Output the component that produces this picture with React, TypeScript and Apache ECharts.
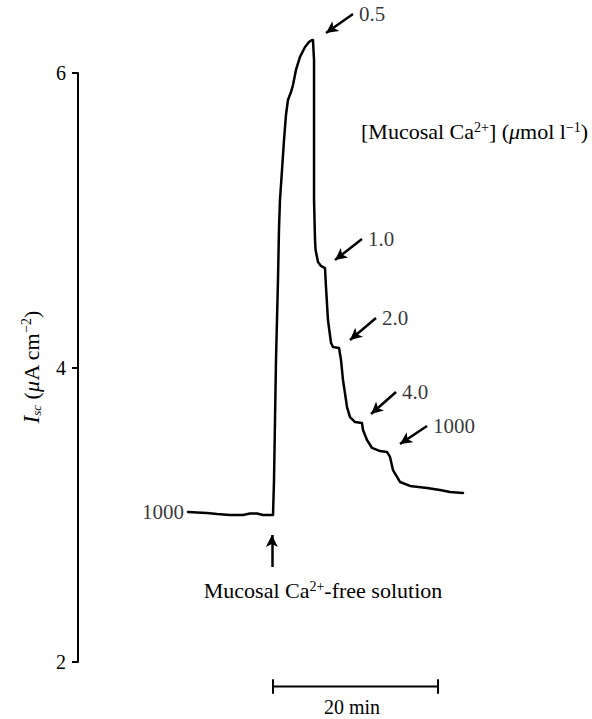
import React, { useEffect, useRef } from 'react';
import * as echarts from 'echarts';

// Time in minutes (x), short-circuit current Isc in µA cm^-2 (y)
const yTicks = [2, 4, 6];

const trace: number[][] = [
  [13.33, 3.022], [14.42, 3.019], [15.64, 3.015], [16.85, 3.008], [18.42, 3.002],
  [20.0, 3.002], [20.85, 3.012], [21.7, 3.012], [22.42, 3.002], [23.27, 3.002], [23.64, 3.002],
  [23.76, 3.239], [23.88, 3.647], [24.0, 4.054], [24.12, 4.326], [24.24, 4.598],
  [24.36, 4.937], [24.48, 5.141], [24.73, 5.345], [24.97, 5.548], [25.21, 5.718],
  [25.45, 5.82], [25.82, 5.874], [26.06, 5.922], [26.42, 6.024], [26.91, 6.113],
  [27.52, 6.18], [28.0, 6.214], [28.36, 6.228], [28.48, 6.228],
  [28.61, 6.092], [28.61, 5.684], [28.61, 5.141], [28.73, 4.869], [28.8, 4.801],
  [29.09, 4.72], [29.45, 4.693], [29.94, 4.679],
  [30.06, 4.55], [30.3, 4.326], [30.67, 4.17], [30.91, 4.143], [31.64, 4.136],
  [31.88, 4.054], [32.12, 3.919], [32.61, 3.735], [32.97, 3.667], [33.58, 3.633],
  [34.42, 3.626], [34.55, 3.579], [35.03, 3.511], [35.64, 3.457], [36.61, 3.436],
  [37.45, 3.43], [37.82, 3.396], [38.18, 3.307], [39.03, 3.226], [40.24, 3.199],
  [42.3, 3.185], [43.88, 3.171], [45.09, 3.158], [46.67, 3.151],
];

// mucosal Ca2+ concentrations (µmol l-1) and their marker arrows
const concLabels = ['0.5', '1.0', '2.0', '4.0', '1000'];
const arrowTails: number[][] = [
  [33.33, 6.404], [34.42, 4.876], [36.12, 4.34], [38.55, 3.837], [42.3, 3.606],
];
const arrowHeads: number[][] = [
  [30.06, 6.275], [31.15, 4.733], [32.97, 4.19], [35.52, 3.688], [39.03, 3.484],
];
const startLabel = '1000';
const startPoint = [13.33, 3.022];
const stepArrow: number[][] = [[23.5, 2.649], [23.5, 2.866]];

// 20-min scale bar
const scaleStart = 23.64;
const scaleLength = 20;
const scaleY = 1.837;
const scaleCap = 0.05;

export default function App() {
  const ref = useRef<HTMLDivElement>(null);

  useEffect(() => {
    const chart = echarts.init(ref.current!, null, { renderer: 'svg' });
    const serif = '"Liberation Serif", "Times New Roman", serif';
    const ink = '#000';

    const arrowData: any[] = arrowTails.map((t, i) => [
      { coord: t },
      { coord: arrowHeads[i] },
    ]);
    arrowData.push([{ coord: stepArrow[0] }, { coord: stepArrow[1] }]);

    const labelData: any[] = arrowTails.map((t, i) => ({
      value: t,
      label: { formatter: concLabels[i], position: 'right', distance: 6 },
    }));
    labelData.push({
      value: startPoint,
      label: { formatter: startLabel, position: 'left', distance: 4 },
    });

    const scaleEnd = scaleStart + scaleLength;
    const scaleData = [
      [scaleStart, scaleY + scaleCap], [scaleStart, scaleY - scaleCap], [scaleStart, scaleY],
      [scaleEnd, scaleY], [scaleEnd, scaleY + scaleCap], [scaleEnd, scaleY - scaleCap],
    ];

    const supStyle = { fontSize: 14, fontFamily: serif, color: ink, verticalAlign: 'top', lineHeight: 14 };

    const option: any = {
      animation: false,
      backgroundColor: '#ffffff',
      grid: [
        { left: 78, right: 19, top: 73, bottom: 57 },
        // same vertical scale as grid 0 (147.25 px per unit), extended range 1.65–6.45
        { left: 78, right: 19, top: 7.2375, bottom: 4.9625 },
      ],
      xAxis: [
        { gridIndex: 0, type: 'value', min: 0, max: 60, show: false },
        { gridIndex: 1, type: 'value', min: 0, max: 60, show: false },
      ],
      yAxis: [
        {
          gridIndex: 0, type: 'value', min: yTicks[0], max: yTicks[yTicks.length - 1], interval: 2,
          axisLine: { show: true, lineStyle: { color: ink, width: 2 } },
          axisTick: { show: true, length: 6, lineStyle: { color: ink, width: 2 } },
          axisLabel: { color: ink, fontFamily: serif, fontSize: 20, margin: 12 },
          splitLine: { show: false },
        },
        { gridIndex: 1, type: 'value', min: 1.65, max: 6.45, show: false },
      ],
      series: [
        {
          type: 'line', xAxisIndex: 1, yAxisIndex: 1, data: trace, showSymbol: false,
          clip: false, silent: true,
          lineStyle: { color: ink, width: 2.5, join: 'round', cap: 'round' },
          markLine: {
            silent: true, symbol: ['none', 'arrow'], symbolSize: [9, 12], precision: 3,
            lineStyle: { color: ink, width: 2.5, type: 'solid' },
            label: { show: false },
            data: arrowData,
          },
        },
        {
          type: 'scatter', xAxisIndex: 1, yAxisIndex: 1, data: labelData, symbolSize: 0,
          silent: true,
          label: { show: true, color: ink, fontFamily: serif, fontSize: 21 },
        },
        {
          type: 'line', xAxisIndex: 1, yAxisIndex: 1, data: scaleData, showSymbol: false,
          clip: false, silent: true,
          lineStyle: { color: ink, width: 2 },
        },
      ],
      graphic: [
        {
          type: 'text', x: 361, y: 131,
          style: {
            text: '[Mucosal Ca{sup|2+}] ({mu|μ}mol l{sup|−1})',
            fontFamily: serif, fontSize: 22, fill: ink, align: 'left', verticalAlign: 'middle',
            rich: { sup: supStyle, mu: { fontStyle: 'italic', fontSize: 22, fontFamily: serif, color: ink } },
          },
        },
        {
          type: 'text', x: 323, y: 590,
          style: {
            text: 'Mucosal Ca{sup|2+}-free solution',
            fontFamily: serif, fontSize: 22, fill: ink, align: 'center', verticalAlign: 'middle',
            rich: { sup: supStyle },
          },
        },
        {
          type: 'text', x: 352, y: 707,
          style: {
            text: '20 min', fontFamily: serif, fontSize: 20, fill: ink,
            align: 'center', verticalAlign: 'middle',
          },
        },
        {
          type: 'text', x: 31, y: 367, rotation: Math.PI / 2,
          style: {
            text: '{i|I}{sub|sc} ({mu|μ}A cm{sup|−2})',
            fontFamily: serif, fontSize: 22, fill: ink, align: 'center', verticalAlign: 'middle',
            rich: {
              i: { fontStyle: 'italic', fontSize: 23, fontFamily: serif, color: ink },
              sub: { fontStyle: 'italic', fontSize: 13, fontFamily: serif, color: ink, verticalAlign: 'bottom', lineHeight: 12 },
              mu: { fontStyle: 'italic', fontSize: 22, fontFamily: serif, color: ink },
              sup: supStyle,
            },
          },
        },
      ],
    };

    chart.setOption(option);
    return () => chart.dispose();
  }, []);

  return (
    <div
      ref={ref}
      style={{ position: 'fixed', left: 0, top: 0, width: 592, height: 719, background: '#fff' }}
    />
  );
}
